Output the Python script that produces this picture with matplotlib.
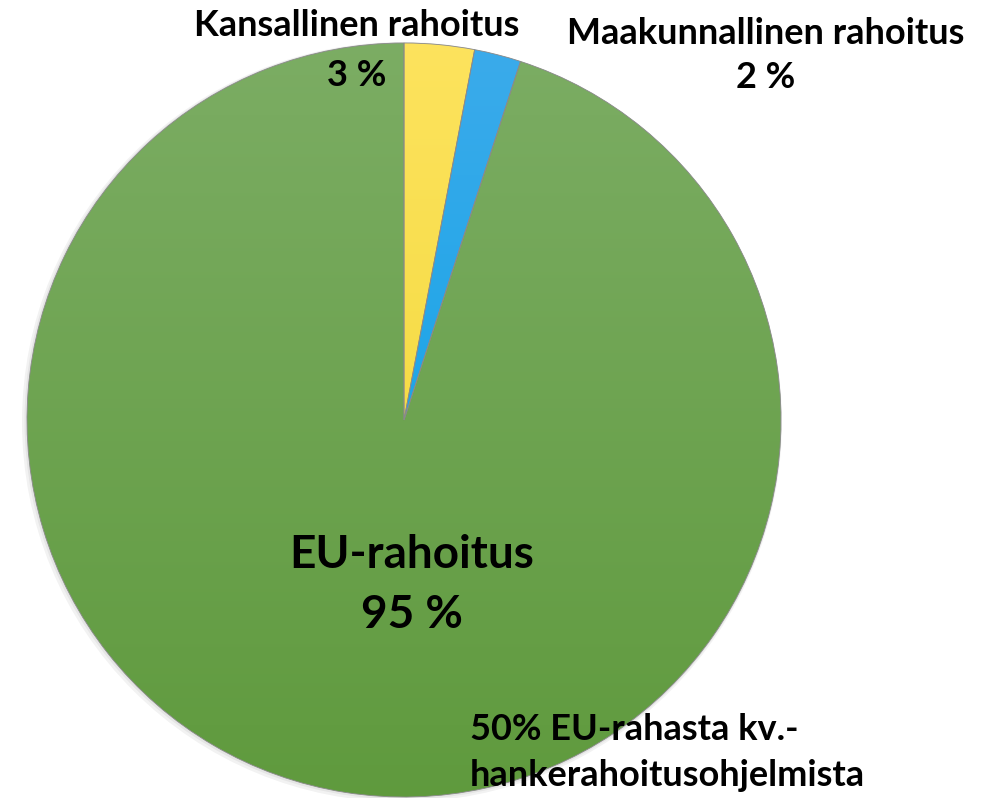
import matplotlib.pyplot as plt
import numpy as np
from matplotlib.colors import LinearSegmentedColormap

# Rahoitusosuudet (%)
osuudet = [3, 2, 95]
nimet = ['Kansallinen rahoitus', 'Maakunnallinen rahoitus', 'EU-rahoitus']
prosentit = ['3 %', '2 %', '95 %']
explode = [0.02, 0.02, 0]
# gradientit ylhäältä alas
varit = [('#fde35e', '#eed52e'), ('#3cabeb', '#00a0e4'), ('#7cad64', '#5f9a3d')]

plt.rcParams['font.family'] = ['Lato', 'DejaVu Sans']

fig = plt.figure(figsize=(9.97, 7.98), dpi=100)
ax = fig.add_axes([0, 0, 1, 1])

kx, ky, r = 404, 798 - 420, 377

# varjo
for i, a in enumerate([0.05, 0.05, 0.06]):
    varjo = plt.Circle((kx - 2 + i, ky - 2 + i), r + 3 - i * 1.5, color='black',
                       alpha=a, lw=0, zorder=0.2)
    ax.add_patch(varjo)

wedges, _ = ax.pie(osuudet, startangle=90, counterclock=False, explode=explode,
                   center=(kx, ky), radius=r, frame=True,
                   wedgeprops=dict(linewidth=0.6, edgecolor='#8a8a8a'))

grad = np.linspace(0, 1, 256).reshape(-1, 1)
for w, (c1, c2) in zip(wedges, varit):
    w.set_facecolor('none')
    w.set_zorder(2)
    cmap = LinearSegmentedColormap.from_list('g', [c2, c1])
    im = ax.imshow(grad, cmap=cmap, extent=[kx - r - 10, kx + r + 10, ky - r - 10, ky + r + 10],
                   origin='lower', aspect='auto', zorder=1)
    im.set_clip_path(w)
ax.set_xlim(0, 997)
ax.set_ylim(0, 798)
ax.axis('off')

def txt(x, y, s, size, ha='center'):
    ax.text(x, 798 - y, s, fontsize=size, fontweight='bold', ha=ha, va='center',
            color='black', zorder=5)

txt(357, 25, nimet[0], 26)
txt(357, 75, prosentit[0], 26)
txt(766, 33, nimet[1], 26)
txt(766, 78, prosentit[1], 26)
txt(412, 555, nimet[2], 33)
txt(412, 615, prosentit[2], 33)
txt(470, 730, '50% EU-rahasta kv.-', 26, ha='left')
txt(470, 775, 'hankerahoitusohjelmista', 26, ha='left')

plt.savefig('out.png', dpi=100)
